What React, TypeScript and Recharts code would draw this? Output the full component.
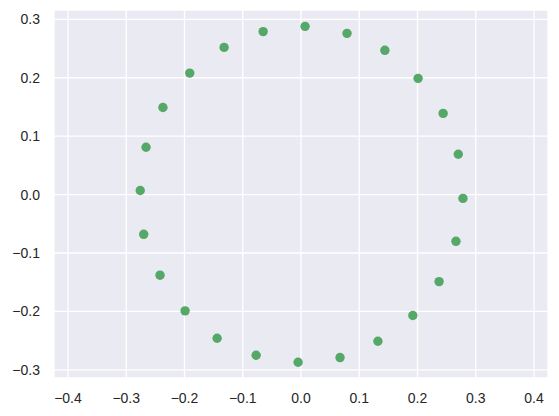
import React from "react";
import {
  ScatterChart,
  Scatter,
  XAxis,
  YAxis,
  CartesianGrid,
} from "recharts";

// points, in draw order round the ring
const xValues = [
  -0.266, -0.276, -0.27, -0.242, -0.199, -0.144, -0.077, -0.005, 0.067, 0.132,
  0.192, 0.237, 0.266, 0.278, 0.27, 0.244, 0.201, 0.144, 0.079, 0.007, -0.065,
  -0.132, -0.191, -0.237,
];
const yValues = [
  0.081, 0.007, -0.068, -0.138, -0.199, -0.246, -0.275, -0.287, -0.279, -0.251,
  -0.207, -0.149, -0.08, -0.0065, 0.069, 0.139, 0.199, 0.247, 0.276, 0.288,
  0.279, 0.252, 0.208, 0.149,
];

const xTicks = [-0.4, -0.3, -0.2, -0.1, 0, 0.1, 0.2, 0.3, 0.4];
const yTicks = [-0.3, -0.2, -0.1, 0, 0.1, 0.2, 0.3];

const points = xValues.map((x, i) => ({ x, y: yValues[i] }));

const fmt = (v: number) => v.toFixed(1).replace("-", "\u2212");

const tickStyle = {
  fill: "#262626",
  fontSize: 14,
  fontFamily: "'Liberation Sans', Arial, sans-serif",
};

const Dot = (props: any) => {
  const { cx, cy } = props;
  return <circle cx={cx} cy={cy} r={4.7} fill="#55a868" />;
};

const App: React.FC = () => {
  return (
    <div style={{ position: "absolute", left: 0, top: 0, background: "#fff" }}>
      <ScatterChart
        width={559}
        height={416}
        margin={{ top: 10, right: 11, bottom: 0, left: 0 }}
      >
        <CartesianGrid
          fill="#eaeaf2"
          stroke="#ffffff"
          strokeWidth={1.3}
        />
        <XAxis
          type="number"
          dataKey="x"
          domain={[-0.424, 0.424]}
          ticks={xTicks}
          tickFormatter={fmt}
          axisLine={false}
          tickLine={false}
          tickSize={6}
          tickMargin={9}
          height={38}
          tick={tickStyle}
          interval={0}
        />
        <YAxis
          type="number"
          dataKey="y"
          domain={[-0.314, 0.316]}
          ticks={yTicks}
          tickFormatter={fmt}
          axisLine={false}
          tickLine={false}
          tickSize={6}
          tickMargin={8}
          width={54}
          tick={tickStyle}
          interval={0}
        />
        <Scatter
          data={points}
          shape={Dot}
          isAnimationActive={false}
        />
      </ScatterChart>
    </div>
  );
};

export default App;
